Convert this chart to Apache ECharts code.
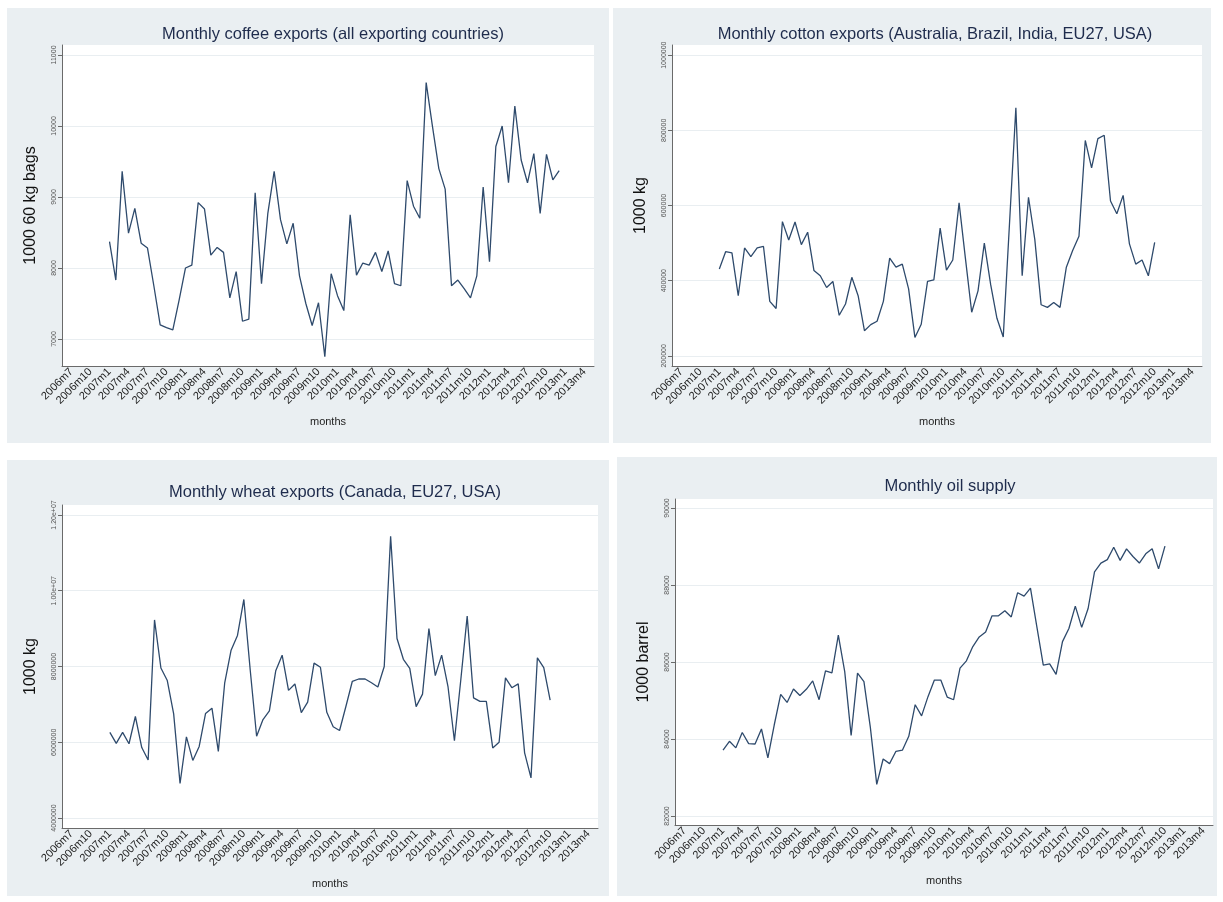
<!DOCTYPE html>
<html><head><meta charset="utf-8">
<script src="https://cdn.jsdelivr.net/npm/echarts@6/dist/echarts.min.js"></script>
<style>html,body{margin:0;padding:0;background:#fff}#c{width:1223px;height:902px}</style>
</head><body><div id="c"></div>
<script>
// categories: months 2006m6 .. 2013m5
const months = [];
for (let y = 2006; y <= 2013; y++) for (let m = 1; m <= 12; m++) {
  const idx = (y - 2006) * 12 + m;
  if (idx >= 6 && idx <= 89) months.push(y + 'm' + m);
}
const startIndex = months.indexOf('2007m1');

// coffee 2007m1..2012m12 (1000 60 kg bags)
const coffee = [8370,7830,9360,8490,8840,8350,8280,7750,7200,7160,7130,7550,
  8000,8040,8920,8830,8180,8290,8220,7580,7950,7250,7280,9060,
  7780,8770,9360,8680,8340,8630,7890,7500,7190,7510,6750,7920,
  7610,7400,8750,7900,8070,8040,8220,7950,8240,7780,7750,9230,
  8870,8700,10610,9990,9400,9110,7750,7830,7710,7580,7890,9140,
  8090,9710,10000,9200,10280,9520,9200,9610,8770,9600,9240,9370];
// cotton 2007m1..2012m10 (1000 kg)
const cotton = [431000,477000,474000,360000,487000,464000,487000,491000,345000,326000,557000,508000,
  556000,496000,529000,427000,413000,382000,398000,308000,338000,409000,360000,267000,
  283000,292000,345000,460000,436000,444000,378000,249000,284000,398000,402000,540000,
  428000,455000,607000,460000,316000,373000,500000,390000,300000,250000,555000,860000,
  413000,622000,510000,336000,329000,342000,329000,436000,480000,518000,773000,700000,
  778000,787000,612000,578000,627000,498000,444000,455000,413000,502000];
// wheat 2007m1..2012m10 (1000 kg)
const wheat = [6260000,5970000,6260000,5960000,6680000,5860000,5530000,9230000,7960000,7630000,6750000,4910000,
  6140000,5520000,5890000,6760000,6900000,5760000,7570000,8430000,8820000,9770000,7900000,6160000,
  6600000,6830000,7890000,8300000,7370000,7540000,6780000,7060000,8090000,7980000,6790000,6410000,
  6310000,6950000,7610000,7670000,7670000,7570000,7460000,8000000,11440000,8740000,8190000,7950000,
  6940000,7270000,9000000,7760000,8300000,7460000,6040000,7650000,9330000,7170000,7080000,7080000,
  5850000,6000000,7700000,7440000,7540000,5720000,5060000,8230000,7970000,7110000];
// oil 2007m1..2012m10 (1000 barrel)
const oil = [83710,83940,83770,84170,83880,83870,84260,83510,84370,85160,84950,85300,
  85130,85290,85510,85020,85770,85720,86700,85750,84090,85710,85490,84300,
  82820,83480,83360,83680,83710,84070,84890,84600,85100,85530,85530,85090,
  85020,85840,86030,86400,86650,86780,87200,87200,87330,87170,87800,87710,
  87920,86910,85920,85950,85680,86530,86870,87450,86900,87390,88340,88570,
  88660,88980,88640,88940,88740,88570,88810,88940,88420,89010];

const titles = ['Monthly coffee exports (all exporting countries)',
  'Monthly cotton exports (Australia, Brazil, India, EU27, USA)',
  'Monthly wheat exports (Canada, EU27, USA)',
  'Monthly oil supply'];
const yNames = ['1000 60 kg bags', '1000 kg', '1000 kg', '1000 barrel'];
const yTicks = [[7000,8000,9000,10000,11000],
  [200000,400000,600000,800000,1000000],
  [4000000,6000000,8000000,10000000,12000000],
  [82000,84000,86000,88000,90000]];
const yRange = [[6620,11140],[173000,1027000],[3736000,12264000],[81766,90234]];
const seriesData = [coffee, cotton, wheat, oil];

const panels = [[7,8,602,435],[613,8,598,435],[7,460,602,436],[617,457,600,439]];
const grids = [[62,45,532,321],[672,45,530,321],[62,505,536,323],[675,499,538,326]];
const titlePos = [[328,21],[930,21],[330,479],[945,473]];

const FONT = '"Liberation Sans", Arial, sans-serif';
const fmtY = v => v >= 1e7 ? v.toExponential(2).replace('e+7','e+07') : String(v);

const option = {
  animation: false,
  backgroundColor: '#ffffff',
  graphic: panels.map(p => ({type:'rect', z:-10, shape:{x:p[0],y:p[1],width:p[2],height:p[3]}, style:{fill:'#eaeff2'}})),
  title: titles.map((t,i) => ({text:t, left: titlePos[i][0], top: titlePos[i][1], textAlign:'center',
    textStyle:{fontFamily:FONT, fontSize:16.5, fontWeight:'normal', color:'#1e2b4c'}})),
  grid: grids.map(g => ({left:g[0], top:g[1], width:g[2], height:g[3], backgroundColor:'#ffffff', show:true, borderWidth:0})),
  xAxis: grids.map((g,i) => ({type:'category', gridIndex:i, data:months, boundaryGap:true,
    name:'months', nameLocation:'middle', nameGap:50,
    nameTextStyle:{fontFamily:FONT, fontSize:11, color:'#222'},
    axisLine:{lineStyle:{color:'#6a6a6a', width:1}},
    axisTick:{alignWithLabel:true, interval:(idx)=>idx%3===1, length:4, lineStyle:{color:'#6a6a6a'}},
    axisLabel:{interval:(idx)=>idx%3===1, rotate:45, fontFamily:FONT, fontSize:11, color:'#222', margin:4},
    splitLine:{show:false}})),
  yAxis: grids.map((g,i) => ({type:'value', gridIndex:i, min:yRange[i][0], max:yRange[i][1],
    name:yNames[i], nameLocation:'middle', nameGap:23,
    nameTextStyle:{fontFamily:FONT, fontSize:16, color:'#111'},
    axisLine:{show:true, lineStyle:{color:'#6a6a6a', width:1}},
    axisTick:{show:true, length:4, lineStyle:{color:'#6a6a6a'}, customValues:yTicks[i]},
    axisLabel:{rotate:90, fontFamily:FONT, fontSize:7, color:'#555', margin:4, formatter:fmtY, customValues:yTicks[i]},
    splitLine:{show:true, lineStyle:{color:'#e9eef1', width:1}}})),
  series: seriesData.map((d,i) => ({type:'line', xAxisIndex:i, yAxisIndex:i,
    data: new Array(startIndex).fill(null).concat(d),
    showSymbol:false, symbol:'none', connectNulls:false,
    lineStyle:{color:'#2e4a6c', width:1.3}}))
};
const chart = echarts.init(document.getElementById('c'), null, {renderer:'canvas'});
chart.setOption(option);
</script></body></html>
